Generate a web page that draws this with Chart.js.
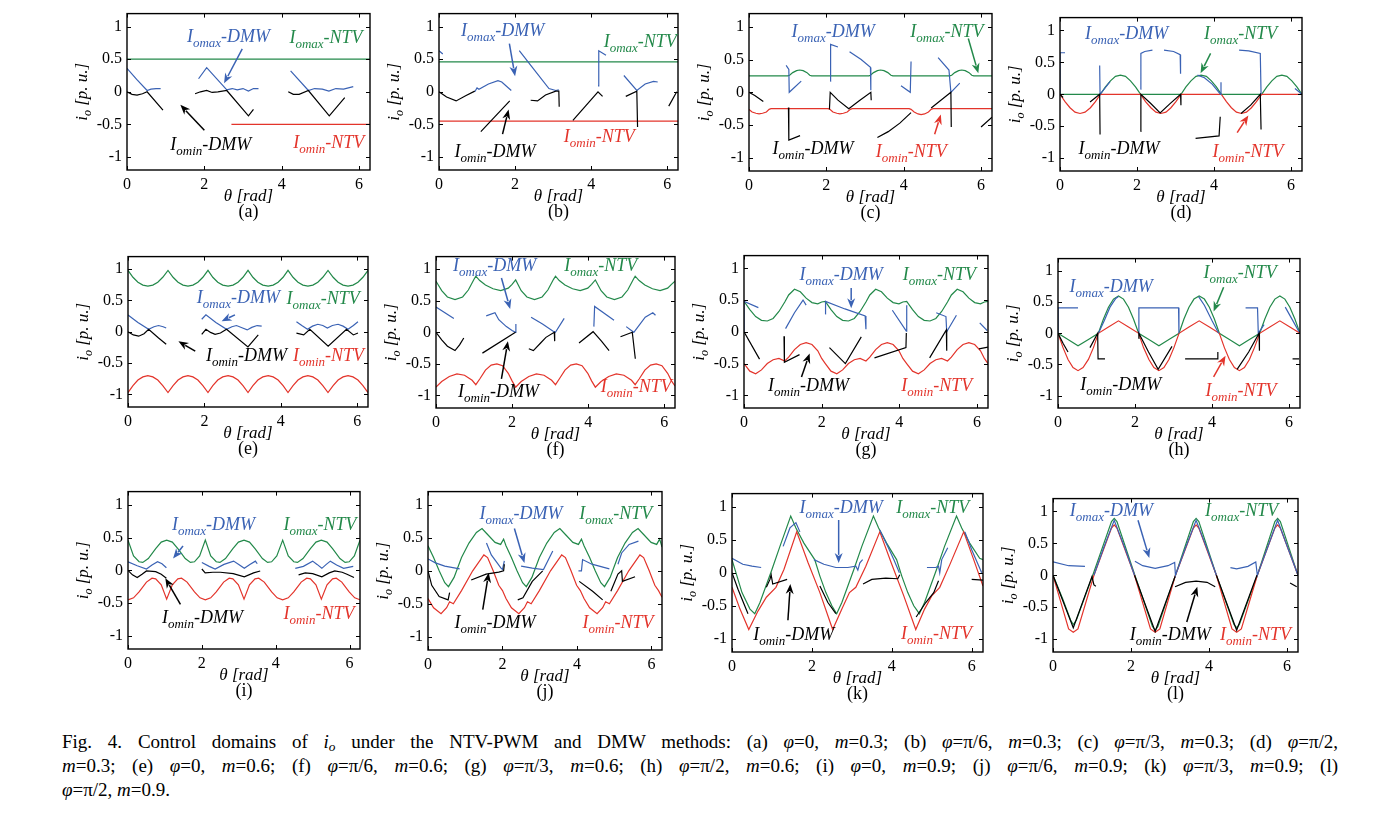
<!DOCTYPE html>
<html><head><meta charset="utf-8">
<script src="https://cdn.jsdelivr.net/npm/chart.js@4.4.1/dist/chart.umd.min.js"></script>
<style>
html,body{margin:0;padding:0;background:#fff;}
body{width:1398px;height:821px;position:relative;overflow:hidden;font-family:'Liberation Serif','Times New Roman',serif;}
.pc{position:absolute;}
#cap{position:absolute;left:62px;top:730px;width:1276px;font-size:19px;line-height:24px;color:#000;}
#cap .j{text-align:justify;text-align-last:justify;}
#cap sub{font-size:70%;vertical-align:-0.25em;line-height:0;}
</style></head><body>
<div id="cap">
<div class="j">Fig. 4. Control domains of <i>i<sub>o</sub></i> under the NTV-PWM and DMW methods: (a) <i>φ</i>=0, <i>m</i>=0.3; (b) <i>φ</i>=π/6, <i>m</i>=0.3; (c) <i>φ</i>=π/3, <i>m</i>=0.3; (d) <i>φ</i>=π/2,</div>
<div class="j"><i>m</i>=0.3; (e) <i>φ</i>=0, <i>m</i>=0.6; (f) <i>φ</i>=π/6, <i>m</i>=0.6; (g) <i>φ</i>=π/3, <i>m</i>=0.6; (h) <i>φ</i>=π/2, <i>m</i>=0.6; (i) <i>φ</i>=0, <i>m</i>=0.9; (j) <i>φ</i>=π/6, <i>m</i>=0.9; (k) <i>φ</i>=π/3, <i>m</i>=0.9; (l)</div>
<div><i>φ</i>=π/2, <i>m</i>=0.9.</div>
</div>
<script>
// ---------- tick values / labels ----------
const xTickValues = [0, 2, 4, 6];
const xTickLabels = ['0', '2', '4', '6'];
const yTickValues = [-1, -0.5, 0, 0.5, 1];
const yTickLabels = ['-1', '-0.5', '0', '0.5', '1'];
const panelLetters = ['(a)','(b)','(c)','(d)','(e)','(f)','(g)','(h)','(i)','(j)','(k)','(l)'];

// ---------- (a) phi=0, m=0.3 ----------
const a_omaxNTV = [[0,0.5],[6.283,0.5]];
const a_ominNTV = [[2.7,-0.5],[6.283,-0.5]];
const a_omaxDMW = [
 [[0,0.36],[0.25,0.19],[0.52,0.02],[0.62,0.04],[0.75,0.05],[0.87,0.05]],
 [[1.85,0.2],[2.06,0.37],[2.58,0.03],[2.72,0.05],[2.85,0.03],[3.0,0.05],[3.14,0.01],[3.27,0.05],[3.4,0.05]],
 [[4.23,0.32],[4.69,0.02],[4.85,0.05],[5.05,0.04],[5.22,0.01],[5.4,0.05],[5.6,0.04],[5.85,0.08]]
];
const a_ominDMW = [
 [[0,0],[0.13,-0.04],[0.26,-0.05],[0.4,-0.03],[0.52,0.0],[0.93,-0.28]],
 [[1.76,-0.03],[1.9,0.0],[2.06,0.02],[2.2,-0.01],[2.35,0.0],[2.58,0.02],[3.14,-0.37],[3.27,-0.27]],
 [[4.17,0],[4.3,-0.04],[4.45,-0.04],[4.69,0.02],[5.23,-0.37],[5.63,-0.09]]
];

// ---------- (b) phi=pi/6, m=0.3 ----------
const b_omaxNTV = [[0,0.46],[6.283,0.46]];
const b_ominNTV = [[0,-0.45],[6.283,-0.45]];
const b_omaxDMW = [
 [[0,0.63],[0.1,0.58]],
 [[0.94,0.0],[1.0,0.06],[1.05,0.04],[1.3,0.12],[1.55,0.17],[1.65,0.15],[1.9,0.02]],
 [[2.11,0.63],[2.5,0.34],[2.89,0.05],[3.07,0.02],[3.15,0.03]],
 [[4.18,0.09],[4.2,0.63],[4.39,0.56]],
 [[4.86,0.25],[5.2,0.02],[5.42,0.12],[5.64,0.16],[5.75,0.15]]
];
const b_ominDMW = [
 [[0,0],[0.2,-0.08],[0.45,-0.14],[0.7,-0.06],[0.94,0.01]],
 [[1.1,-0.61],[1.86,-0.14]],
 [[2.41,-0.13],[2.59,-0.14],[2.8,-0.05],[3.07,0.01],[3.15,0.01],[3.16,-0.23]],
 [[3.52,-0.44],[4.18,0.0],[4.3,-0.07]],
 [[4.91,-0.07],[5.2,0.01],[5.22,-0.54]],
 [[6.04,-0.22],[6.25,0.0]]
];

// ---------- (c) phi=pi/3, m=0.3 ----------
const c_omaxNTV = [[0,0.25],[1.0,0.25],[1.05,0.26],[1.13,0.3],[1.23,0.33],[1.31,0.34],[1.4,0.33],[1.5,0.3],[1.57,0.26],[1.62,0.25],[3.1,0.25],[3.14,0.26],[3.22,0.3],[3.32,0.33],[3.4,0.34],[3.49,0.33],[3.59,0.3],[3.67,0.26],[3.72,0.25],[5.19,0.25],[5.24,0.26],[5.32,0.3],[5.42,0.33],[5.5,0.34],[5.59,0.33],[5.69,0.3],[5.76,0.26],[5.81,0.25],[6.283,0.25]];
const c_ominNTV = [[0,-0.26],[0.08,-0.3],[0.18,-0.32],[0.26,-0.33],[0.35,-0.32],[0.45,-0.3],[0.52,-0.26],[0.57,-0.25],[2.05,-0.25],[2.09,-0.26],[2.17,-0.3],[2.27,-0.32],[2.35,-0.33],[2.44,-0.32],[2.54,-0.3],[2.62,-0.26],[2.67,-0.25],[4.14,-0.25],[4.19,-0.26],[4.27,-0.3],[4.37,-0.33],[4.45,-0.34],[4.54,-0.33],[4.64,-0.3],[4.71,-0.26],[4.76,-0.25],[6.283,-0.25]];
const c_omaxDMW = [
 [[0.96,0.41],[1.03,0.35],[1.04,0.0],[1.35,0.17]],
 [[2.1,0.17],[2.11,0.73],[2.3,0.69]],
 [[2.6,0.62],[2.9,0.5],[3.14,0.38],[3.15,0.03]],
 [[3.93,0.1],[4.17,0.0],[4.19,0.47]],
 [[4.89,0.53],[5.17,0.34],[5.22,0.0],[5.45,0.14]]
];
const c_ominDMW = [
 [[0,0],[0.15,-0.05],[0.37,-0.14]],
 [[1.02,-0.23],[1.03,-0.73],[1.32,-0.66]],
 [[2.08,-0.26],[2.1,0.0],[2.3,-0.12],[2.58,-0.25],[2.85,-0.13],[3.15,0.0],[3.16,-0.12]],
 [[3.32,-0.69],[3.6,-0.6],[3.9,-0.47],[4.19,-0.31]],
 [[4.71,-0.24],[5.22,0.0],[5.23,-0.53]],
 [[6.0,-0.53],[6.283,-0.38]]
];

// ---------- (d) phi=pi/2, m=0.3 ----------
const d_omaxNTV = [[0,0],[1.047,0],[1.18,0.115],[1.31,0.21],[1.44,0.28],[1.57,0.3],[1.7,0.28],[1.83,0.21],[1.96,0.115],[2.094,0],[3.142,0],[3.27,0.115],[3.4,0.21],[3.53,0.28],[3.665,0.3],[3.8,0.28],[3.93,0.21],[4.06,0.115],[4.189,0],[5.236,0],[5.37,0.115],[5.5,0.21],[5.63,0.28],[5.76,0.3],[5.89,0.28],[6.02,0.21],[6.15,0.115],[6.283,0]];
const d_ominNTV = [[0,0],[0.13,-0.115],[0.26,-0.21],[0.39,-0.28],[0.52,-0.3],[0.65,-0.28],[0.79,-0.21],[0.92,-0.115],[1.047,0],[2.094,0],[2.22,-0.115],[2.36,-0.21],[2.49,-0.28],[2.62,-0.3],[2.75,-0.28],[2.88,-0.21],[3.01,-0.115],[3.142,0],[4.189,0],[4.32,-0.115],[4.45,-0.21],[4.58,-0.28],[4.71,-0.3],[4.84,-0.28],[4.97,-0.21],[5.1,-0.115],[5.236,0],[6.283,0]];
const d_omaxDMW = [
 [[0,0.0],[0.0,0.65],[0.13,0.65]],
 [[1.03,0.45],[1.04,0.0],[1.3,0.2]],
 [[2.09,0.08],[2.1,0.64],[2.2,0.67],[2.4,0.69]],
 [[2.7,0.69],[2.95,0.67],[3.12,0.62],[3.13,0.32]],
 [[3.57,0.3],[3.75,0.26],[3.95,0.16],[4.17,0.0],[4.18,0.19]],
 [[4.65,0.69],[4.9,0.68],[5.2,0.64],[5.22,0.0]],
 [[6.1,0.09],[6.283,0.0]]
];
const d_ominDMW = [
 [[0,0],[0.08,-0.05]],
 [[0.78,-0.12],[1.03,0.0],[1.04,-0.63]],
 [[2.09,-0.58],[2.1,0.0],[2.35,-0.14],[2.6,-0.29],[2.85,-0.15],[3.13,0.0],[3.14,-0.17]],
 [[3.52,-0.69],[4.13,-0.65],[4.16,-0.35]],
 [[4.7,-0.3],[4.95,-0.17],[5.2,0.0],[5.22,-0.55]]
];

// ---------- (e) phi=0, m=0.6 ----------
const e_omaxNTV = [[0,0.98],[0.13,0.87],[0.26,0.79],[0.39,0.745],[0.52,0.73],[0.65,0.745],[0.78,0.79],[0.91,0.87],[1.047,0.98],[1.18,0.87],[1.31,0.79],[1.44,0.745],[1.57,0.73],[1.7,0.745],[1.83,0.79],[1.96,0.87],[2.094,0.98],[2.22,0.87],[2.35,0.79],[2.48,0.745],[2.62,0.73],[2.75,0.745],[2.88,0.79],[3.01,0.87],[3.142,0.98],[3.27,0.87],[3.4,0.79],[3.53,0.745],[3.67,0.73],[3.8,0.745],[3.93,0.79],[4.06,0.87],[4.189,0.98],[4.32,0.87],[4.45,0.79],[4.58,0.745],[4.71,0.73],[4.84,0.745],[4.97,0.79],[5.1,0.87],[5.236,0.98],[5.37,0.87],[5.5,0.79],[5.63,0.745],[5.76,0.73],[5.89,0.745],[6.02,0.79],[6.15,0.87],[6.283,0.98]];
const e_ominNTV = [[0,-0.97],[0.13,-0.86],[0.26,-0.77],[0.39,-0.72],[0.52,-0.7],[0.65,-0.72],[0.78,-0.77],[0.91,-0.86],[1.047,-0.97],[1.18,-0.86],[1.31,-0.77],[1.44,-0.72],[1.57,-0.7],[1.7,-0.72],[1.83,-0.77],[1.96,-0.86],[2.094,-0.97],[2.22,-0.86],[2.35,-0.77],[2.48,-0.72],[2.62,-0.7],[2.75,-0.72],[2.88,-0.77],[3.01,-0.86],[3.142,-0.97],[3.27,-0.86],[3.4,-0.77],[3.53,-0.72],[3.67,-0.7],[3.8,-0.72],[3.93,-0.77],[4.06,-0.86],[4.189,-0.97],[4.32,-0.86],[4.45,-0.77],[4.58,-0.72],[4.71,-0.7],[4.84,-0.72],[4.97,-0.77],[5.1,-0.86],[5.236,-0.97],[5.37,-0.86],[5.5,-0.77],[5.63,-0.72],[5.76,-0.7],[5.89,-0.72],[6.02,-0.77],[6.15,-0.86],[6.283,-0.97]];
const e_omaxDMW = [
 [[0,0.27],[0.26,0.15],[0.54,0.04],[0.68,0.08],[0.8,0.1],[0.92,0.08],[1.0,0.06]],
 [[1.93,0.2],[2.04,0.27],[2.3,0.15],[2.58,0.04],[2.72,0.08],[2.84,0.1],[3.0,0.06],[3.12,0.03],[3.24,0.07],[3.38,0.1],[3.5,0.09]],
 [[4.41,0.16],[4.55,0.1],[4.7,0.04],[4.83,0.09],[4.97,0.12],[5.1,0.1],[5.22,0.06],[5.35,0.1],[5.5,0.12],[5.63,0.09],[5.76,0.04],[5.9,0.1],[6.02,0.16]]
];
const e_ominDMW = [
 [[0,0],[0.14,-0.05],[0.28,-0.07],[0.42,-0.03],[0.54,0.04],[0.8,-0.1],[1.0,-0.2]],
 [[1.93,-0.04],[2.04,0.04],[2.16,-0.01],[2.28,-0.04],[2.42,-0.02],[2.58,0.04],[3.14,-0.24],[3.41,-0.05]],
 [[4.41,-0.02],[4.6,-0.05],[4.76,0.04],[5.24,-0.23],[5.72,0.04],[5.9,-0.05],[6.02,-0.02]]
];

// ---------- (f) phi=pi/6, m=0.6 ----------
const f_omaxNTV = [[0,0.81],[0.15,0.66],[0.3,0.56],[0.5,0.52],[0.7,0.56],[0.85,0.67],[1.0,0.84],[1.047,0.89],[1.15,0.82],[1.3,0.75],[1.5,0.69],[1.7,0.66],[1.9,0.7],[2.0,0.76],[2.094,0.83],[2.24,0.66],[2.39,0.56],[2.59,0.52],[2.79,0.56],[2.94,0.67],[3.09,0.84],[3.142,0.89],[3.24,0.82],[3.39,0.75],[3.59,0.69],[3.79,0.66],[3.99,0.7],[4.09,0.76],[4.189,0.83],[4.34,0.66],[4.49,0.56],[4.69,0.52],[4.89,0.56],[5.04,0.67],[5.19,0.84],[5.236,0.89],[5.34,0.82],[5.49,0.75],[5.69,0.69],[5.89,0.66],[6.09,0.7],[6.19,0.76],[6.283,0.81]];
const f_ominNTV = [[0,-0.87],[0.15,-0.78],[0.35,-0.7],[0.55,-0.66],[0.75,-0.68],[0.95,-0.76],[1.047,-0.83],[1.15,-0.74],[1.3,-0.6],[1.45,-0.52],[1.6,-0.5],[1.75,-0.53],[1.9,-0.65],[2.0,-0.77],[2.094,-0.87],[2.24,-0.78],[2.44,-0.7],[2.64,-0.66],[2.84,-0.68],[3.04,-0.76],[3.142,-0.83],[3.24,-0.74],[3.39,-0.6],[3.54,-0.52],[3.69,-0.5],[3.84,-0.53],[3.99,-0.65],[4.09,-0.77],[4.189,-0.87],[4.34,-0.78],[4.54,-0.7],[4.74,-0.66],[4.94,-0.68],[5.14,-0.76],[5.236,-0.83],[5.34,-0.74],[5.49,-0.6],[5.64,-0.52],[5.79,-0.5],[5.94,-0.53],[6.09,-0.65],[6.19,-0.77],[6.283,-0.85]];
const f_omaxDMW = [
 [[0,0.4],[0.47,0.22]],
 [[1.32,0.26],[1.55,0.31],[1.65,0.2],[1.85,0.09],[2.0,0.03],[2.09,0.0],[2.1,0.13]],
 [[2.5,0.24],[2.8,0.13],[3.07,0.02],[3.14,0.0],[3.37,0.22]],
 [[4.15,0.09],[4.17,0.41],[4.68,0.19]],
 [[5.0,0.09],[5.2,0.0],[5.5,0.24],[5.7,0.31],[5.77,0.27]]
];
const f_ominDMW = [
 [[0,0],[0.15,-0.12],[0.3,-0.22],[0.5,-0.29],[0.62,-0.2],[0.73,-0.09]],
 [[1.22,-0.33],[2.09,0.0]],
 [[2.44,-0.26],[2.56,-0.29],[2.75,-0.17],[2.89,-0.08],[3.11,0.0],[3.12,-0.14]],
 [[3.76,-0.17],[4.13,0.01],[4.35,-0.14],[4.55,-0.29]],
 [[4.85,-0.07],[5.16,0.0],[5.24,-0.42]]
];

// ---------- (g) phi=pi/3, m=0.6 ----------
const g_omaxNTV = [[0,0.48],[0.15,0.35],[0.3,0.24],[0.45,0.18],[0.6,0.17],[0.75,0.21],[0.9,0.32],[1.05,0.47],[1.15,0.58],[1.3,0.67],[1.45,0.63],[1.6,0.53],[1.75,0.46],[1.9,0.44],[2.0,0.47],[2.094,0.48],[2.24,0.35],[2.39,0.24],[2.54,0.18],[2.69,0.17],[2.84,0.21],[2.99,0.32],[3.14,0.47],[3.24,0.58],[3.39,0.67],[3.54,0.63],[3.69,0.53],[3.84,0.46],[3.99,0.44],[4.09,0.47],[4.189,0.48],[4.34,0.35],[4.49,0.24],[4.64,0.18],[4.79,0.17],[4.94,0.21],[5.09,0.32],[5.24,0.47],[5.34,0.58],[5.49,0.67],[5.64,0.63],[5.79,0.53],[5.94,0.46],[6.09,0.44],[6.19,0.47],[6.283,0.48]];
const g_ominNTV = [[0,-0.5],[0.15,-0.62],[0.3,-0.66],[0.45,-0.6],[0.6,-0.5],[0.75,-0.44],[0.9,-0.42],[1.05,-0.46],[1.15,-0.4],[1.3,-0.28],[1.45,-0.2],[1.6,-0.17],[1.75,-0.2],[1.9,-0.3],[2.0,-0.42],[2.094,-0.5],[2.24,-0.62],[2.39,-0.66],[2.54,-0.6],[2.69,-0.5],[2.84,-0.44],[2.99,-0.42],[3.14,-0.46],[3.24,-0.4],[3.39,-0.28],[3.54,-0.2],[3.69,-0.17],[3.84,-0.2],[3.99,-0.3],[4.09,-0.42],[4.189,-0.5],[4.34,-0.62],[4.49,-0.66],[4.64,-0.6],[4.79,-0.5],[4.94,-0.44],[5.09,-0.42],[5.24,-0.46],[5.34,-0.4],[5.49,-0.28],[5.64,-0.2],[5.79,-0.17],[5.94,-0.2],[6.09,-0.3],[6.19,-0.42],[6.283,-0.5]];
const g_omaxDMW = [
 [[0,0.0],[0,0.48],[0.37,0.38]],
 [[1.07,0.05],[1.3,0.3],[1.52,0.5],[1.6,0.42]],
 [[2.09,0.28],[2.1,0.48],[2.6,0.36],[3.12,0.25],[3.14,0.04]],
 [[3.82,0.34],[4.18,0.01],[4.19,0.42]],
 [[4.95,0.3],[5.2,0.24],[5.22,0.0],[5.47,0.26]],
 [[6.07,0.14],[6.26,0.02]]
];
const g_ominDMW = [
 [[0,0],[0.4,-0.43]],
 [[1.03,-0.07],[1.04,-0.48],[1.43,-0.36]],
 [[2.2,-0.25],[2.61,-0.5],[3.02,-0.08]],
 [[3.36,-0.41],[4.17,-0.25],[4.18,-0.02]],
 [[4.78,-0.41],[5.21,0.03],[5.22,-0.3]],
 [[6.05,-0.27],[6.283,-0.24]]
];

// ---------- (h) phi=pi/2, m=0.6 ----------
const h_omaxNTV = [[0,0],[0.26,-0.1],[0.52,-0.2],[0.79,-0.1],[1.047,0],[1.18,0.23],[1.31,0.42],[1.44,0.55],[1.57,0.6],[1.7,0.55],[1.83,0.42],[1.96,0.23],[2.094,0],[2.36,-0.1],[2.62,-0.2],[2.88,-0.1],[3.142,0],[3.27,0.23],[3.4,0.42],[3.53,0.55],[3.665,0.6],[3.8,0.55],[3.93,0.42],[4.06,0.23],[4.189,0],[4.45,-0.1],[4.71,-0.2],[4.97,-0.1],[5.236,0],[5.37,0.23],[5.5,0.42],[5.63,0.55],[5.76,0.6],[5.89,0.55],[6.02,0.42],[6.15,0.23],[6.283,0]];
const h_ominNTV = [[0,0],[0.13,-0.23],[0.26,-0.42],[0.39,-0.55],[0.52,-0.6],[0.65,-0.55],[0.79,-0.42],[0.92,-0.23],[1.047,0],[1.31,0.1],[1.57,0.2],[1.83,0.1],[2.094,0],[2.22,-0.23],[2.36,-0.42],[2.49,-0.55],[2.62,-0.6],[2.75,-0.55],[2.88,-0.42],[3.01,-0.23],[3.142,0],[3.4,0.1],[3.665,0.2],[3.93,0.1],[4.189,0],[4.32,-0.23],[4.45,-0.42],[4.58,-0.55],[4.71,-0.6],[4.84,-0.55],[4.97,-0.42],[5.1,-0.23],[5.236,0],[5.5,0.1],[5.76,0.2],[6.02,0.1],[6.283,0]];
const h_omaxDMW = [
 [[0,0.0],[0,0.41],[0.52,0.41]],
 [[1.05,0.0],[1.2,0.2],[1.35,0.42],[1.5,0.56],[1.57,0.59]],
 [[2.09,0.0],[2.1,0.41],[3.13,0.41],[3.14,0.0]],
 [[3.65,0.59],[3.8,0.45],[4.0,0.2],[4.17,0.0]],
 [[4.87,0.41],[5.18,0.41],[5.2,0.0],[5.35,0.14]],
 [[5.9,0.42],[6.1,0.2],[6.26,0.02]]
];
const h_ominDMW = [
 [[0,0],[0.13,-0.16],[0.26,-0.3]],
 [[0.83,-0.23],[1.03,0.0],[1.04,-0.41],[1.22,-0.41]],
 [[2.09,-0.08],[2.1,0.0],[2.35,-0.3],[2.6,-0.58],[2.96,-0.21]],
 [[3.3,-0.41],[4.14,-0.41],[4.15,-0.3]],
 [[4.65,-0.58],[4.95,-0.3],[5.22,0.0],[5.23,-0.28]],
 [[6.09,-0.41],[6.26,-0.41]]
];

// ---------- (i) phi=0, m=0.9 ----------
const i_omaxNTV = [[0,0.46],[0.15,0.22],[0.3,0.13],[0.4,0.12],[0.55,0.18],[0.75,0.33],[0.9,0.43],[1.047,0.46],[1.2,0.43],[1.35,0.33],[1.55,0.18],[1.69,0.12],[1.8,0.13],[1.94,0.22],[2.094,0.46],[2.24,0.22],[2.39,0.13],[2.49,0.12],[2.64,0.18],[2.84,0.33],[2.99,0.43],[3.142,0.46],[3.29,0.43],[3.44,0.33],[3.64,0.18],[3.78,0.12],[3.89,0.13],[4.03,0.22],[4.189,0.46],[4.34,0.22],[4.49,0.13],[4.59,0.12],[4.74,0.18],[4.94,0.33],[5.09,0.43],[5.236,0.46],[5.39,0.43],[5.54,0.33],[5.74,0.18],[5.88,0.12],[5.99,0.13],[6.13,0.22],[6.283,0.46]];
const i_ominNTV = [[0,-0.45],[0.15,-0.42],[0.3,-0.33],[0.5,-0.18],[0.65,-0.12],[0.75,-0.13],[0.9,-0.22],[1.047,-0.44],[1.2,-0.22],[1.35,-0.13],[1.45,-0.12],[1.6,-0.18],[1.8,-0.33],[1.95,-0.42],[2.094,-0.45],[2.24,-0.42],[2.39,-0.33],[2.59,-0.18],[2.74,-0.12],[2.84,-0.13],[2.99,-0.22],[3.142,-0.44],[3.29,-0.22],[3.44,-0.13],[3.54,-0.12],[3.69,-0.18],[3.89,-0.33],[4.04,-0.42],[4.189,-0.45],[4.34,-0.42],[4.49,-0.33],[4.69,-0.18],[4.84,-0.12],[4.94,-0.13],[5.09,-0.22],[5.236,-0.44],[5.39,-0.22],[5.54,-0.13],[5.64,-0.12],[5.79,-0.18],[5.99,-0.33],[6.14,-0.42],[6.283,-0.45]];
const i_omaxDMW = [
 [[0,0.13],[0.25,0.07],[0.5,0.02],[0.65,0.08],[0.8,0.13],[0.92,0.1],[1.04,0.04]],
 [[2.0,0.12],[2.2,0.06],[2.36,0.02],[2.6,0.09],[2.86,0.14],[3.0,0.09],[3.15,0.03],[3.3,0.09],[3.45,0.14],[3.5,0.1]],
 [[4.53,0.03],[4.75,0.06],[5.0,0.14],[5.12,0.09],[5.25,0.03],[5.37,0.09],[5.48,0.14],[5.65,0.08],[5.84,0.03],[6.1,0.06]]
];
const i_ominDMW = [
 [[0,0],[0.12,-0.07],[0.25,-0.11],[0.38,-0.06],[0.5,-0.01],[0.75,-0.02],[0.9,-0.06],[1.04,-0.12]],
 [[2.0,0.02],[2.09,-0.04],[2.3,-0.03],[2.5,-0.03],[2.85,-0.05],[3.15,-0.1],[3.4,-0.04],[3.58,-0.01]],
 [[4.62,-0.07],[4.8,-0.04],[5.0,-0.05],[5.25,-0.1],[5.45,-0.04],[5.6,-0.01],[5.8,-0.03],[5.93,-0.06],[6.12,-0.11]]
];

// ---------- (j) phi=pi/6, m=0.9 ----------
const j_omaxNTV = [[0,0.38],[0.15,0.2],[0.3,0.0],[0.45,-0.18],[0.55,-0.24],[0.7,-0.1],[0.9,0.2],[1.1,0.42],[1.3,0.58],[1.45,0.64],[1.6,0.55],[1.8,0.43],[1.95,0.4],[2.03,0.48],[2.094,0.38],[2.24,0.2],[2.39,0.0],[2.54,-0.18],[2.64,-0.24],[2.79,-0.1],[2.99,0.2],[3.19,0.42],[3.39,0.58],[3.54,0.64],[3.69,0.55],[3.89,0.43],[4.04,0.4],[4.12,0.48],[4.189,0.38],[4.34,0.2],[4.49,0.0],[4.64,-0.18],[4.74,-0.24],[4.89,-0.1],[5.09,0.2],[5.29,0.42],[5.49,0.58],[5.64,0.64],[5.79,0.55],[5.99,0.43],[6.14,0.4],[6.22,0.48],[6.283,0.36]];
const j_ominNTV = [[0,-0.42],[0.15,-0.56],[0.35,-0.65],[0.5,-0.56],[0.58,-0.47],[0.68,-0.5],[0.9,-0.3],[1.2,0.0],[1.5,0.24],[1.6,0.2],[1.75,0.0],[1.9,-0.22],[2.0,-0.3],[2.094,-0.42],[2.24,-0.56],[2.44,-0.65],[2.59,-0.56],[2.67,-0.47],[2.77,-0.5],[2.99,-0.3],[3.29,0.0],[3.59,0.24],[3.69,0.2],[3.84,0.0],[3.99,-0.22],[4.09,-0.3],[4.189,-0.42],[4.34,-0.56],[4.54,-0.65],[4.69,-0.56],[4.77,-0.47],[4.87,-0.5],[5.09,-0.3],[5.39,0.0],[5.69,0.24],[5.79,0.2],[5.94,0.0],[6.09,-0.22],[6.19,-0.3],[6.283,-0.4]];
const j_omaxDMW = [
 [[0,0.18],[0.2,0.12],[0.45,0.07],[0.85,0.03]],
 [[1.57,0.42],[1.7,0.24],[1.96,0.04],[2.0,0.02],[2.05,0.15]],
 [[2.5,0.07],[2.8,0.04],[3.1,0.02],[3.35,0.3]],
 [[4.04,0.0],[4.12,0.0],[4.15,0.17],[4.4,0.1],[4.87,0.03]],
 [[5.1,0.1],[5.2,0.27],[5.4,0.4],[5.65,0.45]]
];
const j_ominDMW = [
 [[0,0],[0.1,-0.22],[0.3,-0.39],[0.54,-0.44],[0.58,-0.33]],
 [[1.16,-0.14],[1.56,-0.05],[1.9,-0.02],[2.03,0.0],[2.05,0.1]],
 [[2.41,-0.44],[2.55,-0.41],[2.8,-0.16],[3.08,0.0]],
 [[4.06,-0.16],[4.42,-0.31],[4.69,-0.44]],
 [[4.91,-0.31],[5.1,-0.05],[5.2,0.0],[5.22,-0.16],[5.56,-0.09]]
];

// ---------- (k) phi=pi/3, m=0.9 ----------
const k_omaxNTV = [[0,0.2],[0.1,0.0],[0.25,-0.3],[0.45,-0.55],[0.57,-0.62],[0.7,-0.45],[1.0,0.05],[1.2,0.4],[1.47,0.86],[1.6,0.68],[1.8,0.45],[2.07,0.2],[2.2,-0.05],[2.35,-0.3],[2.5,-0.5],[2.62,-0.62],[2.75,-0.45],[3.05,0.05],[3.25,0.4],[3.54,0.86],[3.67,0.68],[3.87,0.45],[4.12,0.2],[4.25,-0.05],[4.4,-0.3],[4.55,-0.5],[4.69,-0.62],[4.82,-0.45],[5.12,0.05],[5.32,0.4],[5.62,0.86],[5.75,0.68],[5.95,0.45],[6.2,0.22],[6.283,0.2]];
const k_ominNTV = [[0,-0.22],[0.2,-0.55],[0.42,-0.86],[0.65,-0.58],[0.86,-0.37],[1.1,-0.22],[1.3,0.05],[1.62,0.62],[1.9,0.16],[2.2,-0.3],[2.52,-0.86],[2.75,-0.55],[2.94,-0.3],[3.1,-0.22],[3.35,0.1],[3.7,0.62],[3.98,0.16],[4.3,-0.35],[4.6,-0.86],[4.82,-0.55],[5.0,-0.35],[5.2,-0.22],[5.45,0.12],[5.8,0.62],[6.05,0.2],[6.283,-0.2]];
const k_omaxDMW = [
 [[0,0.22],[0.27,0.13],[0.5,0.1],[0.73,0.08]],
 [[1.28,0.4],[1.45,0.68],[1.6,0.76],[1.7,0.62]],
 [[2.05,0.2],[2.3,0.13],[2.6,0.08],[2.9,0.08],[3.1,0.1],[3.15,0.04],[3.2,0.15],[3.27,0.2]],
 [[3.7,0.65],[3.9,0.4],[4.05,0.2],[4.19,0.0]],
 [[4.88,0.08],[5.1,0.08],[5.17,0.1],[5.2,0.0],[5.25,0.2],[5.4,0.38]],
 [[5.83,0.62],[6.0,0.35],[6.25,0.0]]
];
const k_ominDMW = [
 [[0,0],[0.15,-0.25],[0.4,-0.62]],
 [[0.86,-0.22],[0.95,-0.1],[0.98,-0.03],[1.02,-0.17],[1.38,-0.1]],
 [[2.2,-0.2],[2.4,-0.45],[2.6,-0.62]],
 [[3.28,-0.17],[3.5,-0.1],[3.85,-0.08],[4.15,-0.09],[4.2,-0.03]],
 [[4.61,-0.67],[4.85,-0.45],[5.05,-0.3],[5.17,-0.12]],
 [[6.0,-0.1],[6.283,-0.11]]
];

// ---------- (l) phi=pi/2, m=0.9 ----------
const l_omaxNTV = [[0,0],[0.25,-0.37],[0.45,-0.7],[0.52,-0.77],[0.6,-0.7],[1.02,0.0],[1.5,0.84],[1.57,0.89],[1.64,0.84],[2.1,0.0],[2.55,-0.8],[2.62,-0.86],[2.69,-0.8],[3.14,0.0],[3.6,0.84],[3.67,0.89],[3.74,0.84],[4.19,0.0],[4.64,-0.77],[4.71,-0.82],[4.78,-0.77],[5.24,0.0],[5.69,0.84],[5.76,0.89],[5.83,0.84],[6.283,0.0]];
const l_ominNTV = [[0,0],[0.4,-0.84],[0.52,-0.89],[0.64,-0.84],[1.05,0.0],[1.5,0.74],[1.57,0.79],[1.64,0.74],[2.09,0.0],[2.5,-0.84],[2.62,-0.89],[2.74,-0.84],[3.14,0.0],[3.6,0.74],[3.67,0.79],[3.74,0.74],[4.19,0.0],[4.59,-0.84],[4.71,-0.89],[4.83,-0.84],[5.24,0.0],[5.69,0.74],[5.76,0.79],[5.83,0.74],[6.283,0.0]];
const l_omaxDMW = [
 [[0,0.21],[0.4,0.15],[0.82,0.14]],
 [[1.05,0.0],[1.3,0.43],[1.57,0.86],[1.84,0.43],[2.09,0.0]],
 [[2.1,0.22],[2.3,0.15],[2.62,0.11],[2.95,0.15],[3.12,0.2],[3.14,0.0],[3.4,0.43],[3.67,0.86],[3.94,0.43],[4.19,0.0]],
 [[4.55,0.12],[4.71,0.1],[5.0,0.14],[5.2,0.21],[5.24,0.0],[5.5,0.43],[5.76,0.86],[6.02,0.43],[6.283,0.0]]
];
const l_ominDMW = [
 [[0,0],[0.52,-0.82],[1.0,-0.02],[1.05,-0.15],[1.1,-0.17]],
 [[2.09,0.0],[2.62,-0.88],[3.13,-0.02]],
 [[3.13,-0.18],[3.4,-0.11],[3.67,-0.09],[3.95,-0.11],[4.16,-0.18]],
 [[4.19,0.0],[4.71,-0.86],[5.23,0.0]],
 [[6.08,-0.12],[6.25,-0.18]]
];

// ---------- layout & annotation (positions only) ----------
const COL = {blue:'#3a62b4', green:'#23894a', red:'#e3342b', black:'#000000'};
// plot-box pixel boxes: [left, top, right, bottom]
const boxes = [
 [127,11,370,170],[439,11,678,170],[749,11,992,171],[1060,15,1302,171],
 [128,254,368,407],[436,254,675,408],[744,253,988,408],[1058,256,1300,408],
 [128,489,360,649],[428,489,662,650],[732,491,983,652],[1053,496,1298,652]
];
const seriesSets = [
 [a_omaxNTV,a_ominNTV,a_omaxDMW,a_ominDMW],[b_omaxNTV,b_ominNTV,b_omaxDMW,b_ominDMW],
 [c_omaxNTV,c_ominNTV,c_omaxDMW,c_ominDMW],[d_omaxNTV,d_ominNTV,d_omaxDMW,d_ominDMW],
 [e_omaxNTV,e_ominNTV,e_omaxDMW,e_ominDMW],[f_omaxNTV,f_ominNTV,f_omaxDMW,f_ominDMW],
 [g_omaxNTV,g_ominNTV,g_omaxDMW,g_ominDMW],[h_omaxNTV,h_ominNTV,h_omaxDMW,h_ominDMW],
 [i_omaxNTV,i_ominNTV,i_omaxDMW,i_ominDMW],[j_omaxNTV,j_ominNTV,j_omaxDMW,j_ominDMW],
 [k_omaxNTV,k_ominNTV,k_omaxDMW,k_ominDMW],[l_omaxNTV,l_ominNTV,l_omaxDMW,l_ominDMW]
];
// label anchors (data coords): [blueDMW, greenNTV, blackDMW, redNTV]
const labelPos = [
 [[1.55,0.76],[4.2,0.75],[1.12,-0.9],[4.3,-0.86]],
 [[0.58,0.85],[4.33,0.69],[0.41,-1.0],[3.28,-0.77]],
 [[1.1,0.85],[4.17,0.85],[0.61,-0.94],[3.28,-0.99]],
 [[0.65,0.86],[3.74,0.86],[0.48,-0.93],[3.96,-0.98]],
 [[1.8,0.46],[4.15,0.45],[2.04,-0.47],[4.32,-0.47]],
 [[0.45,0.97],[3.37,0.97],[0.58,-1.02],[4.33,-0.95]],
 [[1.43,0.82],[4.09,0.82],[0.62,-0.94],[4.05,-0.94]],
 [[0.3,0.66],[3.78,0.89],[0.58,-0.91],[3.83,-1.01]],
 [[1.19,0.62],[4.21,0.62],[0.92,-0.81],[4.21,-0.74]],
 [[1.38,0.79],[4.06,0.78],[0.71,-0.86],[4.15,-0.86]],
 [[1.69,0.9],[4.11,0.9],[0.53,-1.02],[4.23,-1.0]],
 [[0.43,0.93],[3.9,0.93],[1.97,-1.02],[4.28,-1.02]]
];
// arrows (data coords): [x1,y1,x2,y2,colour]
const arrowPos = [
 [[2.98,0.66,2.51,0.13,'blue'],[2.0,-0.59,1.38,-0.2,'black']],
 [[1.85,0.74,2.0,0.24,'blue'],[1.67,-0.65,1.83,-0.27,'black']],
 [[5.67,0.82,5.93,0.29,'green'],[4.8,-0.64,4.96,-0.34,'red']],
 [[3.91,0.64,3.65,0.33,'green'],[4.6,-0.6,4.89,-0.33,'red']],
 [[2.8,0.27,2.45,0.17,'blue'],[1.76,-0.31,1.32,-0.15,'black']],
 [[1.72,0.86,1.95,0.37,'blue'],[1.72,-0.74,1.89,-0.14,'black']],
 [[2.76,0.69,2.76,0.37,'blue'],[1.48,-0.71,1.69,-0.34,'black']],
 [[4.3,0.74,4.04,0.35,'green'],[4.04,-0.7,4.35,-0.36,'red']],
 [[1.49,0.37,1.22,0.18,'blue'],[1.42,-0.52,1.01,-0.12,'black']],
 [[2.32,0.64,2.59,0.12,'blue'],[1.47,-0.59,1.63,-0.03,'black']],
 [[2.67,0.8,2.67,0.15,'blue'],[1.4,-0.72,1.46,-0.17,'black']],
 [[2.18,0.86,2.47,0.27,'blue'],[3.43,-0.73,3.7,-0.18,'black']]
];

// ---------- helpers ----------
const SERIF = "'Liberation Serif','Times New Roman',serif";
function pts(arr){ return arr.map(p=>({x:p[0],y:p[1]})); }
function segs(list){
  const out=[];
  list.forEach((s,idx)=>{
    if(idx) out.push({x:s[0][0], y:null});
    s.forEach(p=>out.push({x:p[0],y:p[1]}));
  });
  return out;
}
function drawLabel(ctx, px, py, sub, tail, color){
  ctx.fillStyle=color; ctx.textBaseline='alphabetic'; ctx.textAlign='left';
  ctx.font='italic 18px '+SERIF;
  ctx.fillText('I', px, py);
  let w=ctx.measureText('I').width;
  ctx.font='italic 13px '+SERIF;
  ctx.fillText(sub, px+w, py+5);
  w+=ctx.measureText(sub).width;
  ctx.font='italic 18px '+SERIF;
  ctx.fillText(tail, px+w, py);
}
function drawArrow(ctx,x1,y1,x2,y2,color){
  const ang=Math.atan2(y2-y1,x2-x1), L=10, W=4;
  ctx.strokeStyle=color; ctx.fillStyle=color; ctx.lineWidth=1.5;
  ctx.beginPath(); ctx.moveTo(x1,y1); ctx.lineTo(x2-Math.cos(ang)*L*0.8,y2-Math.sin(ang)*L*0.8); ctx.stroke();
  ctx.beginPath();
  ctx.moveTo(x2,y2);
  ctx.lineTo(x2-L*Math.cos(ang)+W*Math.sin(ang), y2-L*Math.sin(ang)-W*Math.cos(ang));
  ctx.lineTo(x2-L*0.7*Math.cos(ang), y2-L*0.7*Math.sin(ang));
  ctx.lineTo(x2-L*Math.cos(ang)-W*Math.sin(ang), y2-L*Math.sin(ang)+W*Math.cos(ang));
  ctx.closePath(); ctx.fill();
}

const figPlugin = {
  id:'fig',
  afterDatasetsDraw(chart, args, opts){
    const {ctx, chartArea:ca, scales:{x,y}} = chart;
    ctx.save();
    ctx.strokeStyle='#000'; ctx.lineWidth=1;
    xTickValues.forEach(v=>{const p=Math.round(x.getPixelForValue(v))+0.5;
      ctx.beginPath(); ctx.moveTo(p,ca.bottom); ctx.lineTo(p,ca.bottom-4); ctx.moveTo(p,ca.top); ctx.lineTo(p,ca.top+4); ctx.stroke();});
    yTickValues.forEach(v=>{const p=Math.round(y.getPixelForValue(v))+0.5;
      ctx.beginPath(); ctx.moveTo(ca.left,p); ctx.lineTo(ca.left+4,p); ctx.moveTo(ca.right,p); ctx.lineTo(ca.right-4,p); ctx.stroke();});
    ctx.lineWidth=1.4;
    ctx.strokeRect(ca.left, ca.top, ca.right-ca.left, ca.bottom-ca.top);
    (opts.arrows||[]).forEach(a=>drawArrow(ctx, x.getPixelForValue(a[0]), y.getPixelForValue(a[1]), x.getPixelForValue(a[2]), y.getPixelForValue(a[3]), COL[a[4]]));
    const L=opts.labels;
    drawLabel(ctx, x.getPixelForValue(L[0][0]), y.getPixelForValue(L[0][1]), 'omax', '-DMW', COL.blue);
    drawLabel(ctx, x.getPixelForValue(L[1][0]), y.getPixelForValue(L[1][1]), 'omax', '-NTV', COL.green);
    drawLabel(ctx, x.getPixelForValue(L[2][0]), y.getPixelForValue(L[2][1]), 'omin', '-DMW', COL.black);
    drawLabel(ctx, x.getPixelForValue(L[3][0]), y.getPixelForValue(L[3][1]), 'omin', '-NTV', COL.red);
    ctx.fillStyle='#000'; ctx.textAlign='center'; ctx.textBaseline='middle';
    ctx.font='italic 17px '+SERIF;
    const cx=(ca.left+ca.right)/2;
    ctx.fillText('θ [rad]', cx, ca.bottom+27);
    ctx.font='18px '+SERIF;
    ctx.fillText(opts.letter, cx, ca.bottom+42);
    ctx.translate(ca.left-44, (ca.top+ca.bottom)/2);
    ctx.rotate(-Math.PI/2);
    ctx.textAlign='left'; ctx.textBaseline='middle';
    ctx.font='italic 17px '+SERIF; const w1=ctx.measureText('i').width;
    ctx.font='italic 12px '+SERIF; const w2=ctx.measureText('o').width;
    ctx.font='italic 17px '+SERIF; const w3=ctx.measureText(' [p. u.]').width;
    let sx=-(w1+w2+w3)/2;
    ctx.fillText('i', sx, 0); sx+=w1;
    ctx.font='italic 12px '+SERIF; ctx.fillText('o', sx, 5); sx+=w2;
    ctx.font='italic 17px '+SERIF; ctx.fillText(' [p. u.]', sx, 0);
    ctx.restore();
  }
};

boxes.forEach((b,idx)=>{
  const [L,T,R,B]=b;
  const W=(R-L)+72, H=(B-T)+12+72;
  const cv=document.createElement('canvas');
  cv.className='pc'; cv.width=W; cv.height=H;
  cv.style.left=(L-60)+'px'; cv.style.top=(T-12)+'px';
  cv.style.width=W+'px'; cv.style.height=H+'px';
  document.body.appendChild(cv);
  const S=seriesSets[idx];
  const base={showLine:true, pointRadius:0, borderWidth:1.2, fill:false, tension:0, spanGaps:false};
  new Chart(cv.getContext('2d'), {
    type:'scatter',
    data:{datasets:[
      Object.assign({label:'Iomin-DMW', data:segs(S[3]), borderColor:COL.black, order:1}, base),
      Object.assign({label:'Iomax-DMW', data:segs(S[2]), borderColor:COL.blue, order:2}, base),
      Object.assign({label:'Iomin-NTV', data:pts(S[1]), borderColor:COL.red, order:3}, base),
      Object.assign({label:'Iomax-NTV', data:pts(S[0]), borderColor:COL.green, order:4}, base)
    ]},
    plugins:[figPlugin],
    options:{
      responsive:false, animation:false, devicePixelRatio:1, events:[],
      layout:{padding:{left:0,top:12,right:12,bottom:0}},
      plugins:{legend:{display:false}, tooltip:{enabled:false},
        fig:{labels:labelPos[idx], arrows:arrowPos[idx], letter:panelLetters[idx]}},
      scales:{
        x:{type:'linear', min:0, max:6.283,
          grid:{display:false, drawTicks:false}, border:{display:false},
          afterBuildTicks:s=>{s.ticks=xTickValues.map(v=>({value:v}));},
          afterFit:s=>{s.height=72;},
          ticks:{padding:5, color:'#000', font:{family:SERIF,size:16}, maxRotation:0,
            callback:v=>{const k=xTickValues.indexOf(v); return k<0?'':xTickLabels[k];}}},
        y:{type:'linear', min:-1.2, max:1.2,
          grid:{display:false, drawTicks:false}, border:{display:false},
          afterBuildTicks:s=>{s.ticks=yTickValues.map(v=>({value:v}));},
          afterFit:s=>{s.width=60;},
          ticks:{padding:5, color:'#000', font:{family:SERIF,size:16},
            callback:v=>{const k=yTickValues.indexOf(v); return k<0?'':yTickLabels[k];}}}
      }
    }
  });
});
</script>
</body></html>
